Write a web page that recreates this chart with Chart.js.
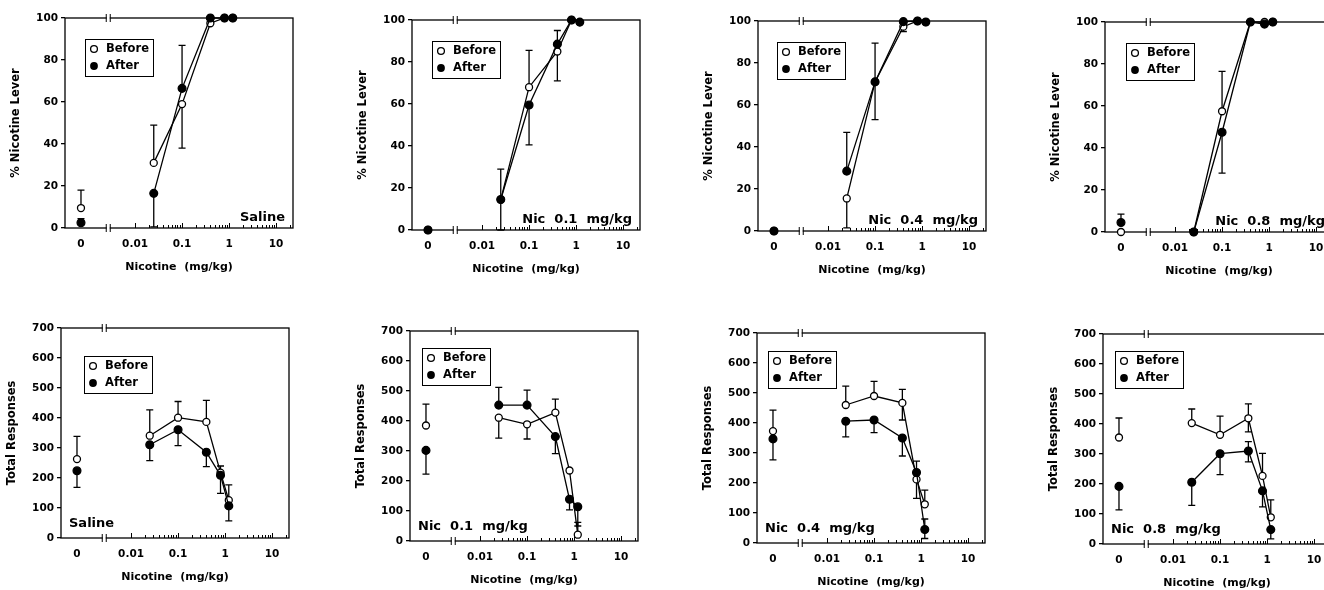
<!DOCTYPE html>
<html lang="en">
<head>
<meta charset="UTF-8">
<title>Nicotine discrimination before / after</title>
<script src="https://cdn.jsdelivr.net/npm/chart.js"></script>
<style>
    html, body { margin: 0; padding: 0; background: #fff; overflow: hidden; }
    body { position: relative; width: 1324px; height: 590px; }
    canvas { position: absolute; }
</style>
</head>
<body>
<script>
// doses (mg/kg); 0 = saline, drawn left of the axis break
const doses = [0, 0.025, 0.1, 0.4, 0.8, 1.2];
const conditions = ['Saline', 'Nic  0.1  mg/kg', 'Nic  0.4  mg/kg', 'Nic  0.8  mg/kg'];
const xTickLabels = ['0', '0.01', '0.1', '1', '10'];
const leverTicks = [0, 20, 40, 60, 80, 100];
const responseTicks = [0, 100, 200, 300, 400, 500, 600, 700];

// % nicotine lever, one row per condition
const leverBefore = [
    [9.5, 31, 59, 97.5, 100, 100],
    [0, 14.5, 68, 85, 100, 99],
    [0, 15.5, 71, 97.3, 100, 99.5],
    [0, 0, 57.5, 100, 100, 100]
];
const leverBeforeErr = [
    [18, 49, 38, null, null, null],
    [null, 29, 85.5, 71, null, null],
    [null, 1.5, 53, 95, null, null],
    [null, null, 76.5, null, null, null]
];
const leverAfter = [
    [2.5, 16.5, 66.5, 100, 100, 100],
    [0, 14.5, 59.5, 88.5, 100, 99],
    [0, 28.5, 71, 99.7, 100, 99.5],
    [4.5, 0, 47.5, 100, 99, 100]
];
const leverAfterErr = [
    [4.5, 0.5, 87, null, null, null],
    [null, 0, 40.5, 95, null, null],
    [null, 47, 89.5, null, null, null],
    [8.5, null, 28, null, null, null]
];

// total responses
const respBefore = [
    [263, 341, 401, 387, 218, 126],
    [385, 411, 389, 428, 235, 21],
    [373, 460, 490, 467, 212, 129],
    [355, 403, 364, 419, 227, 89]
];
const respBeforeErr = [
    [339, 427, 455, 459, 240, 177],
    [456, 343, 340, 473, null, 62],
    [443, 523, 539, [410, 512], 149, 176],
    [420, 450, 426, [374, 467], 302, 147]
];
const respAfter = [
    [224, 311, 361, 286, 209, 107],
    [302, 453, 453, 348, 139, 114],
    [347, 406, 410, 350, 235, 45],
    [192, 206, 301, 310, 177, 48]
];
const respAfterErr = [
    [169, 258, 308, 238, 149, 57],
    [223, 512, 503, 291, 104, 50],
    [277, 354, 368, 290, 273, [15, 80]],
    [114, 129, 231, [274, 341], 124, 17]
];

// x axis runs in log10(dose); the zero dose sits at a fixed spot before the break
const ZERO_LOG = -3.15;
const BREAK_LOG = -2.57;
const X_MIN = -3.49;
const X_MAX = 1.36;
const xTickValues = [ZERO_LOG, -2, -1, 0, 1];

// canvas placement (left, top) for the 8 panels
const canvasPos = [[0, 0], [347, 2], [693, 3], [1040, 4], [-4, 310], [345, 313], [692, 315], [1038, 316]];
const legendPos = [[20, 21], [20, 21], [19, 21], [21, 21], [23, 28], [12, 17], [11, 18], [12, 17]];

Chart.defaults.font.family = "'DejaVu Sans', sans-serif";
Chart.defaults.font.weight = 'bold';
Chart.defaults.color = '#000';

const toX = d => d > 0 ? Math.log10(d) : ZERO_LOG;

const framePlugin = {
    id: 'frame',
    beforeDatasetsDraw(chart) {
        const { ctx, chartArea: a } = chart;
        const x = chart.scales.x;
        ctx.save();
        ctx.strokeStyle = '#000';
        ctx.lineWidth = 1.3;
        ctx.strokeRect(a.left, a.top, a.right - a.left, a.bottom - a.top);
        // log ticks pointing inward on the bottom axis
        ctx.lineWidth = 1;
        for (let e = -2; e <= 1; e++) {
            for (let k = 1; k <= 9; k++) {
                const v = e + Math.log10(k);
                if (v > X_MAX) break;
                const px = Math.round(x.getPixelForValue(v)) + 0.5;
                const len = k === 1 ? 5 : 3;
                ctx.beginPath();
                ctx.moveTo(px, a.bottom);
                ctx.lineTo(px, a.bottom - len);
                ctx.stroke();
            }
        }
        // axis break marks
        const bx = x.getPixelForValue(BREAK_LOG);
        [a.top, a.bottom].forEach(y => {
            ctx.fillStyle = '#fff';
            ctx.fillRect(bx - 1.5, y - 2, 3, 4);
            ctx.beginPath();
            ctx.moveTo(bx - 2, y - 4);
            ctx.lineTo(bx - 2, y + 4);
            ctx.moveTo(bx + 2, y - 4);
            ctx.lineTo(bx + 2, y + 4);
            ctx.stroke();
        });
        ctx.restore();
    }
};

const errorBarPlugin = {
    id: 'errorBars',
    beforeDatasetsDraw(chart) {
        const { ctx } = chart;
        const x = chart.scales.x, y = chart.scales.y;
        ctx.save();
        ctx.strokeStyle = '#000';
        ctx.lineWidth = 1.3;
        chart.data.datasets.forEach(ds => {
            ds.data.forEach((p, i) => {
                const e = ds.errEnds[i];
                if (e == null) return;
                const ends = Array.isArray(e) ? e : [e];
                const px = x.getPixelForValue(p.x);
                const py = y.getPixelForValue(p.y);
                ends.forEach(v => {
                    const ey = y.getPixelForValue(v);
                    ctx.beginPath();
                    ctx.moveTo(px, py);
                    ctx.lineTo(px, ey);
                    ctx.moveTo(px - 3.5, ey);
                    ctx.lineTo(px + 3.5, ey);
                    ctx.stroke();
                });
            });
        });
        ctx.restore();
    }
};

function makeTextPlugin(panel, cond, topRow) {
    return {
        id: 'panelText',
        afterDraw(chart) {
            const { ctx, chartArea: a } = chart;
            ctx.save();
            // legend box
            const bx = a.left + legendPos[panel][0];
            const by = a.top + legendPos[panel][1];
            ctx.strokeStyle = '#000';
            ctx.lineWidth = 1;
            ctx.strokeRect(bx + 0.5, by + 0.5, 68, 37);
            ctx.lineWidth = 1.3;
            ctx.beginPath();
            ctx.arc(bx + 9, by + 10, 3.4, 0, Math.PI * 2);
            ctx.fillStyle = '#fff';
            ctx.fill();
            ctx.stroke();
            ctx.beginPath();
            ctx.arc(bx + 9, by + 27, 3.9, 0, Math.PI * 2);
            ctx.fillStyle = '#000';
            ctx.fill();
            ctx.font = "bold 11.5px 'DejaVu Sans'";
            ctx.textBaseline = 'middle';
            ctx.textAlign = 'left';
            ctx.fillText('Before', bx + 21, by + 10.5);
            ctx.fillText('After', bx + 21, by + 27.5);
            // condition label
            ctx.font = "bold 13px 'DejaVu Sans'";
            if (topRow) {
                ctx.textAlign = 'right';
                ctx.fillText(conditions[cond], a.right - 8, a.top + 200);
            } else {
                ctx.textAlign = 'left';
                ctx.fillText(conditions[cond], a.left + 8, a.top + 196);
            }
            ctx.restore();
        }
    };
}

function makeDataset(label, values, errs, filled) {
    return {
        label: label,
        data: doses.map((d, i) => ({ x: toX(d), y: values[i] })),
        errEnds: errs,
        borderColor: '#000',
        borderWidth: 1.3,
        pointRadius: filled ? 3.9 : 3.5,
        pointBorderWidth: 1.3,
        pointBackgroundColor: filled ? '#000' : '#fff',
        pointBorderColor: '#000',
        clip: false,
        order: filled ? 0 : 1,
        segment: {
            borderColor: c => c.p0DataIndex === 0 ? 'rgba(0,0,0,0)' : '#000'
        }
    };
}

function makePanel(panel) {
    const topRow = panel < 4;
    const cond = panel % 4;
    const canvas = document.createElement('canvas');
    canvas.width = 330;
    canvas.height = 295;
    canvas.style.left = canvasPos[panel][0] + 'px';
    canvas.style.top = canvasPos[panel][1] + 'px';
    document.body.appendChild(canvas);

    const before = topRow ? leverBefore[cond] : respBefore[cond];
    const beforeErr = topRow ? leverBeforeErr[cond] : respBeforeErr[cond];
    const after = topRow ? leverAfter[cond] : respAfter[cond];
    const afterErr = topRow ? leverAfterErr[cond] : respAfterErr[cond];
    const yTicks = topRow ? leverTicks : responseTicks;

    new Chart(canvas.getContext('2d'), {
        type: 'line',
        data: {
            datasets: [
                makeDataset('Before', before, beforeErr, false),
                makeDataset('After', after, afterErr, true)
            ]
        },
        options: {
            responsive: false,
            animation: false,
            events: [],
            layout: { padding: { left: 9, top: 18, right: 37, bottom: 17 } },
            plugins: { legend: { display: false }, tooltip: { enabled: false } },
            scales: {
                x: {
                    type: 'linear',
                    min: X_MIN,
                    max: X_MAX,
                    grid: { display: false, drawTicks: false },
                    border: { display: false },
                    afterBuildTicks: s => { s.ticks = xTickValues.map(v => ({ value: v })); },
                    afterFit: s => { s.height = 50; },
                    ticks: {
                        autoSkip: false,
                        maxRotation: 0,
                        padding: 10,
                        font: { size: 10.5 },
                        callback: (v, i) => xTickLabels[i]
                    },
                    title: {
                        display: true,
                        text: 'Nicotine  (mg/kg)',
                        font: { size: 11 },
                        padding: { top: 0, bottom: 4 }
                    }
                },
                y: {
                    min: 0,
                    max: yTicks[yTicks.length - 1],
                    grid: { drawOnChartArea: false, drawTicks: true, tickLength: 4, color: '#000', lineWidth: 1.3 },
                    border: { display: false },
                    afterBuildTicks: s => { s.ticks = yTicks.map(v => ({ value: v })); },
                    afterFit: s => { s.width = 56; },
                    ticks: { padding: 3, font: { size: 10.5 } },
                    title: {
                        display: true,
                        text: topRow ? '% Nicotine Lever' : 'Total Responses',
                        font: { size: 11.5 },
                        padding: { top: 0, bottom: 0 }
                    }
                }
            }
        },
        plugins: [framePlugin, errorBarPlugin, makeTextPlugin(panel, cond, topRow)]
    });
}

for (let p = 0; p < 8; p++) makePanel(p);
</script>
</body>
</html>
